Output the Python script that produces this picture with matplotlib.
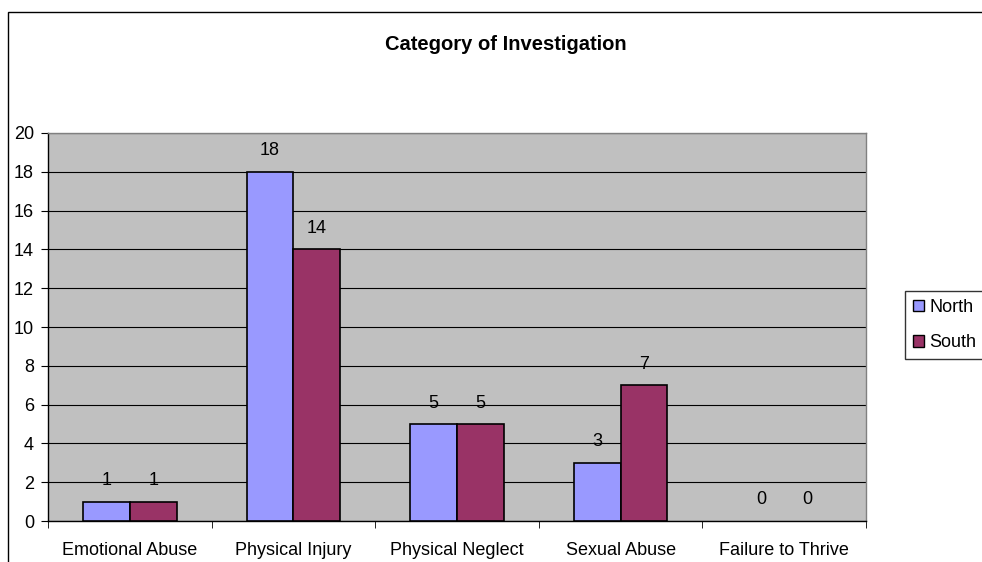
import matplotlib
matplotlib.use("Agg")
import matplotlib.pyplot as plt
from matplotlib.patches import Rectangle, Patch
import numpy as np

plt.rcParams["font.family"] = ["Liberation Sans", "DejaVu Sans"]

categories = ["Emotional Abuse", "Physical Injury", "Physical Neglect", "Sexual Abuse", "Failure to Thrive"]
north = [1, 18, 5, 3, 0]
south = [1, 14, 5, 7, 0]
series_names = ["North", "South"]
colors = ["#9999FF", "#993366"]
yticks = list(range(0, 21, 2))

fig = plt.figure(figsize=(9.82, 5.62), dpi=100)
fig.patches.append(Rectangle((8 / 982, -0.1), 1.2, 1.1 - 12 / 562,
                             transform=fig.transFigure, fill=False,
                             edgecolor="black", linewidth=1.0))

ax = fig.add_axes([48 / 982, 41 / 562, 818 / 982, 388 / 562])
ax.set_facecolor("#C0C0C0")

x = np.arange(len(categories))
w = 1 / 3.5
for i, (vals, c) in enumerate([(north, colors[0]), (south, colors[1])]):
    xs = x + (i - 0.5) * w
    lws = [1.2 if v > 0 else 0 for v in vals]
    ax.bar(xs, vals, width=w, color=c, edgecolor="black", linewidth=lws, zorder=3)
    for xi, v in zip(xs, vals):
        ax.annotate(str(v), (xi, v), xytext=(0, 9), textcoords="offset points",
                    ha="center", va="bottom", fontsize=13, zorder=4)

ax.set_xlim(-0.5, len(categories) - 0.5)
ax.set_ylim(0, 20)
ax.set_yticks(yticks)
ax.yaxis.grid(True, color="black", linewidth=0.8, zorder=1)
ax.tick_params(axis="y", length=5, pad=5, labelsize=13, direction="out")

ax.set_xticks(x)
ax.set_xticklabels(categories)
ax.set_xticks(np.arange(-0.5, len(categories)), minor=True)
ax.tick_params(axis="x", which="major", length=0, pad=15, labelsize=13)
ax.tick_params(axis="x", which="minor", length=5, direction="out")

for s in ["top", "right"]:
    ax.spines[s].set_color("#808080")
    ax.spines[s].set_linewidth(1.0)
for s in ["left", "bottom"]:
    ax.spines[s].set_color("black")
    ax.spines[s].set_linewidth(1.0)

fig.text(506 / 982, 1 - 45 / 562, "Category of Investigation", ha="center", va="center",
         fontsize=14.5, fontweight="bold")

handles = [Patch(facecolor=c, edgecolor="black", label=n) for n, c in zip(series_names, colors)]
leg = fig.legend(handles=handles, loc="upper left", bbox_to_anchor=(905 / 982, 1 - 291 / 562),
                 frameon=True, fancybox=False, edgecolor="black", fontsize=13,
                 handlelength=0.6, handleheight=0.6, handletextpad=0.3,
                 borderpad=0.45, labelspacing=1.0, borderaxespad=0)
leg.get_frame().set_linewidth(1.0)

fig.savefig("out.png", dpi=100)
